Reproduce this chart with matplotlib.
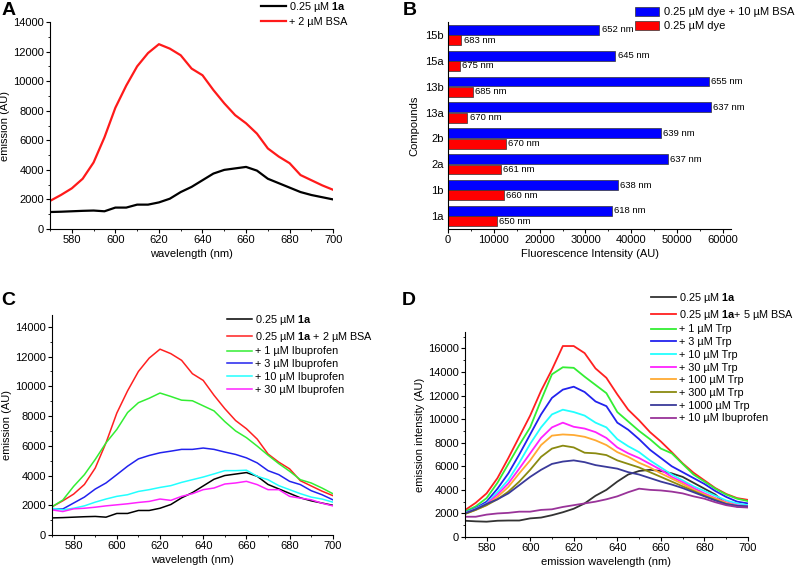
import matplotlib
matplotlib.use("Agg")
import matplotlib.pyplot as plt
from matplotlib.ticker import MultipleLocator
import numpy as np

plt.rcParams['font.family'] = ['Liberation Sans', 'DejaVu Sans']
plt.rcParams['mathtext.fontset'] = 'custom'
plt.rcParams['mathtext.rm'] = 'Liberation Sans'
plt.rcParams['mathtext.bf'] = 'Liberation Sans:bold'

# wavelength grid (nm)
wl = [570, 575, 580, 585, 590, 595, 600, 605, 610, 615, 620, 625, 630, 635,
      640, 645, 650, 655, 660, 665, 670, 675, 680, 685, 690, 695, 700]

# Panel A / C
dye_1a = [1150, 1170, 1200, 1230, 1250, 1200, 1450, 1450, 1650, 1650, 1800, 2050, 2500, 2850,
          3300, 3750, 4000, 4100, 4200, 3950, 3400, 3100, 2800, 2500, 2300, 2150, 2000]
bsa_2 = [1900, 2300, 2750, 3400, 4500, 6200, 8200, 9700, 11000, 11900, 12500, 12200, 11750, 10850,
         10400, 9400, 8500, 7700, 7150, 6450, 5450, 4900, 4450, 3650, 3300, 2950, 2650]
ibu_1 = [1900, 2350, 3270, 4060, 5080, 6200, 7100, 8240, 8900, 9200, 9550, 9320, 9070, 9030,
         8690, 8350, 7630, 7000, 6550, 5980, 5370, 4800, 4290, 3720, 3500, 3160, 2780]
ibu_3 = [1760, 1750, 2150, 2550, 3090, 3500, 4060, 4630, 5120, 5350, 5530, 5640, 5760, 5760,
         5850, 5760, 5580, 5420, 5190, 4850, 4330, 4060, 3610, 3390, 2980, 2710, 2370]
ibu_10 = [1800, 1690, 1800, 1960, 2210, 2420, 2600, 2710, 2930, 3050, 3200, 3320, 3540, 3720,
          3900, 4110, 4330, 4330, 4360, 3950, 3720, 3320, 3050, 2780, 2550, 2420, 2210]
ibu_30 = [1690, 1580, 1760, 1800, 1870, 1960, 2030, 2100, 2190, 2260, 2420, 2330, 2600, 2780,
          3050, 3160, 3430, 3500, 3610, 3390, 3050, 3050, 2600, 2480, 2370, 2140, 1960]

# Panel B
compounds = ['1a', '1b', '2a', '2b', '13a', '13b', '15a', '15b']
with_bsa = [35800, 37000, 47900, 46400, 57300, 56900, 36500, 33000]
dye_only = [10700, 12200, 11500, 12700, 4200, 5400, 2550, 2900]
bsa_peak = ['618 nm', '638 nm', '637 nm', '639 nm', '637 nm', '655 nm', '645 nm', '652 nm']
dye_peak = ['650 nm', '660 nm', '661 nm', '670 nm', '670 nm', '685 nm', '675 nm', '683 nm']

# Panel D
d_1a = [1380, 1330, 1300, 1380, 1400, 1400, 1580, 1650, 1850, 2100, 2400, 2850, 3500, 4000,
        4700, 5300, 5600, 5700, 5600, 5400, 5100, 4600, 4100, 3600, 2800, 2600, 2550]
d_bsa = [2270, 2900, 3700, 5000, 6700, 8500, 10300, 12400, 14200, 16200, 16200, 15600, 14300, 13500,
         12100, 10800, 9900, 8900, 8100, 7200, 6250, 5450, 4800, 4150, 3650, 3300, 3150]
trp_1 = [2150, 2600, 3300, 4600, 6200, 7800, 9300, 11600, 13800, 14400, 14350, 13600, 12900, 12200,
         10600, 9800, 9000, 8300, 7500, 7100, 6200, 5300, 4700, 4100, 3600, 3250, 3050]
trp_3 = [2050, 2450, 3000, 4100, 5400, 7000, 8700, 10400, 11800, 12500, 12750, 12300, 11500, 11100,
         9700, 9100, 8300, 7400, 6700, 6000, 5500, 5000, 4500, 3900, 3400, 3000, 2850]
trp_10 = [2050, 2400, 2850, 3800, 4850, 6300, 7900, 9300, 10400, 10800, 10600, 10300, 9700, 9300,
          8300, 7700, 7200, 6500, 5900, 5300, 4800, 4300, 3900, 3500, 3100, 2850, 2700]
trp_30 = [2000, 2350, 2800, 3600, 4550, 5800, 7100, 8400, 9300, 9700, 9350, 9200, 8900, 8400,
          7600, 7100, 6700, 6200, 5700, 5100, 4650, 4150, 3700, 3300, 2950, 2700, 2600]
trp_100 = [1950, 2300, 2700, 3400, 4250, 5400, 6500, 7800, 8600, 8700, 8650, 8500, 8200, 7800,
           7200, 6800, 6300, 5900, 5400, 4950, 4500, 4000, 3600, 3250, 2900, 2650, 2550]
trp_300 = [1950, 2300, 2700, 3200, 3850, 4700, 5700, 6800, 7500, 7750, 7600, 7150, 7100, 6950,
           6500, 6200, 5900, 5500, 5100, 4700, 4300, 3900, 3500, 3150, 2800, 2600, 2550]
trp_1000 = [2000, 2350, 2800, 3200, 3700, 4400, 5100, 5700, 6200, 6400, 6500, 6350, 6100, 5950,
            5800, 5500, 5300, 5000, 4700, 4450, 4150, 3800, 3450, 3100, 2800, 2650, 2600]
d_ibu_10 = [1720, 1720, 1900, 2000, 2050, 2150, 2150, 2300, 2350, 2550, 2700, 2850, 3000, 3200,
            3450, 3800, 4100, 4000, 3950, 3850, 3700, 3450, 3250, 2950, 2700, 2550, 2500]

fs_tick = 8
fs_lab = 8
fs_leg = 7.8


def style_axes(ax):
    ax.spines['top'].set_visible(False)
    ax.spines['right'].set_visible(False)
    ax.tick_params(which='both', direction='out', labelsize=fs_tick, pad=1.5)
    ax.tick_params(which='major', length=2.8)
    ax.tick_params(which='minor', length=1.6)


def spectrum_axes(ax, ymax, ystep, ylabel, xlabel):
    style_axes(ax)
    ax.set_xlim(570, 700)
    ax.set_ylim(0, ymax)
    ax.xaxis.set_major_locator(MultipleLocator(20))
    ax.xaxis.set_minor_locator(MultipleLocator(10))
    ax.yaxis.set_major_locator(MultipleLocator(ystep))
    ax.yaxis.set_minor_locator(MultipleLocator(ystep / 2))
    ax.set_xlabel(xlabel, fontsize=fs_lab, labelpad=3)
    ax.set_ylabel(ylabel, fontsize=fs_lab, labelpad=2)


def add_legend(ax, x, ytop, **kw):
    opts = dict(loc='upper left', bbox_to_anchor=(x / 800, 1 - ytop / 573),
                bbox_transform=fig.transFigure, frameon=False, fontsize=fs_leg,
                handlelength=2.3, handletextpad=0.3, labelspacing=0.25,
                borderpad=0, borderaxespad=0)
    opts.update(kw)
    return ax.legend(**opts)


fig = plt.figure(figsize=(8, 5.73), dpi=100)

lab_1a = r'0.25 µM $\mathbf{1a}$'

# ---- A ----
axA = fig.add_axes([0.0625, 0.6003, 0.354, 0.3613])
axA.plot(wl, dye_1a, color='black', lw=1.6, label=lab_1a)
axA.plot(wl, bsa_2, color='#ff1a1a', lw=1.6, label='+ 2 µM BSA')
spectrum_axes(axA, 14000, 2000, 'emission (AU)', 'wavelength (nm)')
add_legend(axA, 261, 0)
fig.text(0.002, 0.997, 'A', fontsize=14, fontweight='bold', va='top')

# ---- B ----
axB = fig.add_axes([0.56, 0.6003, 0.354, 0.3613])
style_axes(axB)
y = np.arange(len(compounds))
h = 0.38
axB.barh(y + 0.2, with_bsa, height=h, color='#0000ff', edgecolor='#333333', lw=0.5,
         label='0.25 µM dye + 10 µM BSA')
axB.barh(y - 0.2, dye_only, height=h, color='#ff0000', edgecolor='#333333', lw=0.5,
         label='0.25 µM dye')
for i in range(len(compounds)):
    axB.text(with_bsa[i] + 500, y[i] + 0.2, bsa_peak[i], fontsize=6.8, va='center')
    axB.text(dye_only[i] + 500, y[i] - 0.2, dye_peak[i], fontsize=6.8, va='center')
axB.set_yticks(y)
axB.set_yticklabels(compounds)
axB.tick_params(axis='y', length=0, pad=3)
axB.set_ylim(-0.5, len(compounds) - 0.5)
axB.set_xlim(0, 61800)
axB.xaxis.set_major_locator(MultipleLocator(10000))
axB.xaxis.set_minor_locator(MultipleLocator(5000))
axB.set_xlabel('Fluorescence Intensity (AU)', fontsize=fs_lab, labelpad=3)
axB.set_ylabel('Compounds', fontsize=fs_lab, labelpad=4)
add_legend(axB, 635, 7, fontsize=8, handlelength=2.2, handleheight=0.85,
           labelspacing=0.35, handletextpad=0.4)
fig.text(0.503, 0.997, 'B', fontsize=14, fontweight='bold', va='top')

# ---- C ----
axC = fig.add_axes([0.065, 0.0663, 0.351, 0.384])
axC.plot(wl, dye_1a, color='black', lw=1.1, label=lab_1a)
axC.plot(wl, bsa_2, color='#ff2020', lw=1.1, label=lab_1a + ' + 2 µM BSA')
axC.plot(wl, ibu_1, color='#33ee33', lw=1.1, label='+ 1 µM Ibuprofen')
axC.plot(wl, ibu_3, color='#2222ee', lw=1.1, label='+ 3 µM Ibuprofen')
axC.plot(wl, ibu_10, color='#22ffff', lw=1.1, label='+ 10 µM Ibuprofen')
axC.plot(wl, ibu_30, color='#ff22ff', lw=1.1, label='+ 30 µM Ibuprofen')
spectrum_axes(axC, 14800, 2000, 'emission (AU)', 'wavelength (nm)')
add_legend(axC, 227, 313)
fig.text(0.002, 1 - 292 / 573, 'C', fontsize=14, fontweight='bold', va='top')

# ---- D ----
axD = fig.add_axes([0.581, 0.0628, 0.354, 0.358])
d_series = [d_1a, d_bsa, trp_1, trp_3, trp_10, trp_30, trp_100, trp_300, trp_1000, d_ibu_10]
d_labels = [lab_1a, lab_1a + '+ 5 µM BSA', '+ 1 µM Trp', '+ 3 µM Trp', '+ 10 µM Trp',
            '+ 30 µM Trp', '+ 100 µM Trp', '+ 300 µM Trp', '+ 1000 µM Trp', '+ 10 µM Ibuprofen']
d_colors = ['#333333', '#ff2020', '#33ee33', '#2222ee', '#22ffff', '#ff22ff', '#ffaa33',
            '#8a8a10', '#3a3a9a', '#993399']
for vals, lab, col in zip(d_series, d_labels, d_colors):
    axD.plot(wl, vals, color=col, lw=1.3, label=lab)
spectrum_axes(axD, 17400, 2000, 'emission intensity (AU)', 'emission wavelength (nm)')
add_legend(axD, 651, 291)
fig.text(0.502, 1 - 292 / 573, 'D', fontsize=14, fontweight='bold', va='top')

fig.savefig('out.png', dpi=100)
